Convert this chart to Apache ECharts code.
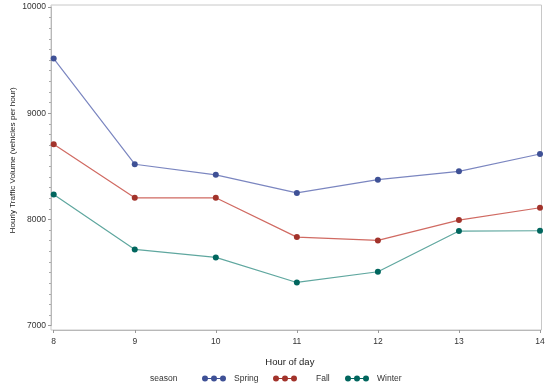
<!DOCTYPE html>
<html><head><meta charset="utf-8">
<script src="https://cdn.jsdelivr.net/npm/echarts@6/dist/echarts.min.js"></script>
<style>html,body{margin:0;padding:0;background:#fff}#c{width:550px;height:390px}</style>
</head><body><div id="c"></div>
<script>
var hours = [8, 9, 10, 11, 12, 13, 14];
var spring = [9515, 8520, 8420, 8250, 8375, 8453, 8616];
var fall = [8707, 8204, 8204, 7834, 7803, 7994, 8110];
var winter = [8236, 7718, 7643, 7407, 7508, 7891, 7894];
var yTicks = [7000, 8000, 9000, 10000];
var seriesNames = ['Spring', 'Fall', 'Winter'];

var FONT = '"Liberation Sans", Arial, sans-serif';
var lineColors = ['#7b86c0', '#d06a62', '#5fa79f'];
var markColors = ['#3f5196', '#a2332b', '#01665e'];
var icon = 'path://M0,3a3,3 0 1,0 6,0a3,3 0 1,0 -6,0zM9,3a3,3 0 1,0 6,0a3,3 0 1,0 -6,0zM18,3a3,3 0 1,0 6,0a3,3 0 1,0 -6,0zM3,2.4v1.2h18v-1.2z';

function pairs(vals){ return hours.map(function(h,i){ return [h, vals[i]]; }); }
var allData = [spring, fall, winter];

var chart = echarts.init(document.getElementById('c'), null, {renderer:'canvas'});
var legendLefts = [197, 268, 340];
var legendPads = [3, 14, 3];
chart.setOption({
  backgroundColor: '#fff',
  animation: false,
  textStyle: {fontFamily: FONT},
  grid: {left: 53.7, right: 10, top: 7, bottom: 64.3, containLabel: false, outerBoundsMode: 'none'},
  graphic: [
    {type: 'rect', shape: {x: 51, y: 5, width: 490.5, height: 325}, style: {fill: 'none', stroke: '#c8c8c8', lineWidth: 1}, silent: true, z: 0},
    {type: 'text', left: 150, top: 374, style: {text: 'season', font: '8.5px ' + FONT, fill: '#333'}}
  ],
  legend: seriesNames.map(function(n, i){
    return {
      data: [{name: n, icon: icon, itemStyle: {color: markColors[i], borderWidth: 0, borderColor: markColors[i]}}],
      left: legendLefts[i], top: 369,
      itemWidth: 24, itemHeight: 6,
      textStyle: {fontSize: 8.5, color: '#333', fontFamily: FONT, padding: [0,0,0,legendPads[i]]},
      selectedMode: false
    };
  }),
  xAxis: {
    type: 'value', min: 8, max: 14, interval: 1, offset: 4.3,
    name: 'Hour of day', nameLocation: 'middle', nameGap: 27, nameMoveOverlap: false,
    nameTextStyle: {fontSize: 9.5, color: '#222', fontFamily: FONT, padding: [0, 14, 0, 0]},
    axisLine: {show: true, lineStyle: {color: '#b8b8b8'}},
    axisTick: {show: true, length: 3, lineStyle: {color: '#999'}},
    axisLabel: {fontSize: 8.5, color: '#333', margin: 7.5, fontFamily: FONT},
    splitLine: {show: false}
  },
  yAxis: {
    type: 'value', min: yTicks[0], max: yTicks[yTicks.length-1], interval: 1000, offset: 2.7,
    name: 'Hourly Traffic Volume (vehicles per hour)', nameLocation: 'middle', nameGap: 34, nameMoveOverlap: false,
    nameTextStyle: {fontSize: 8.1, color: '#222', fontFamily: FONT, padding: [0, 0, 0, 12]},
    axisLine: {show: true, lineStyle: {color: '#b8b8b8'}},
    axisTick: {show: true, length: 3, lineStyle: {color: '#999'}},
    minorTick: {show: true, splitNumber: 10, length: 2, lineStyle: {color: '#aaa'}},
    axisLabel: {fontSize: 8.5, color: '#333', margin: 5, fontFamily: FONT, formatter: function(v){ return String(v); }},
    splitLine: {show: false}
  },
  series: seriesNames.map(function(n, i){
    return {
      name: n, type: 'line', data: pairs(allData[i]),
      symbol: 'circle', symbolSize: 6,
      lineStyle: {color: lineColors[i], width: 1.2},
      itemStyle: {color: markColors[i]},
      z: 3
    };
  })
});
</script></body></html>
